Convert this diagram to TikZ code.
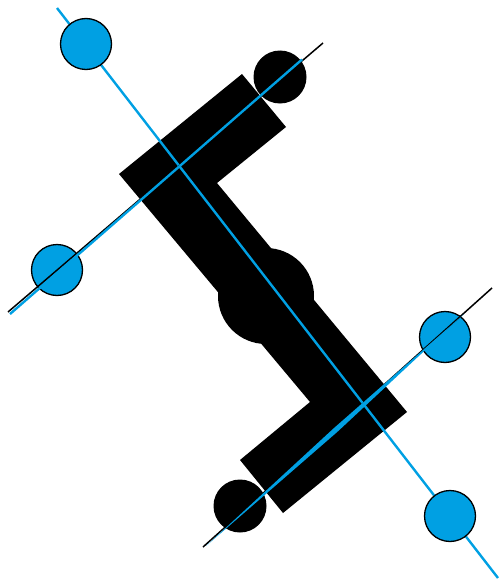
\documentclass[tikz,border=0pt]{standalone}
\definecolor{ablue}{RGB}{0,160,227}
\begin{document}
\begin{tikzpicture}[x=1pt,y=-1pt,
 bluedot/.style={circle,draw=black,line width=1.3pt,fill=ablue,minimum size=51pt,inner sep=0pt},
 blackdot/.style={circle,fill=black,minimum size=53pt,inner sep=0pt},
 bluewire/.style={draw=ablue,line width=2.4pt},
 blackwire/.style={draw=black,line width=1.5pt}]
\useasboundingbox (0,0) rectangle (500,586);
% body
\fill[black] (119,174) -- (242,74) -- (286,127) -- (217,183) -- (407,412) -- (283,513) -- (240,460) -- (310,402) -- cycle;
\fill[black] (266,296) circle[radius=48pt];
\node[blackdot] (j1) at (280,77) {};
\node[blackdot] (j2) at (240,506) {};
% long axis
\coordinate (a1) at (57,8);
\coordinate (a2) at (498,578);
\draw[bluewire] (a1) -- (a2);
% blue dots
\node[bluedot] (b1) at (86,44) {};
\node[bluedot] (b2) at (57,270) {};
\node[bluedot] (b3) at (445,337) {};
\node[bluedot] (b4) at (450,516) {};
% upper cross line
\coordinate (u1) at (8,312);
\coordinate (u2) at (323,43);
\coordinate (u3) at (10,314);
\coordinate (u4) at (302,59.5);
\draw[blackwire] (u1) -- (u2);
\draw[bluewire] (u3) -- (u4);
% lower cross line
\coordinate (l1) at (203,547);
\coordinate (l2) at (492,288);
\coordinate (l3) at (206,546);
\coordinate (l4) at (464,314);
\coordinate (lm1) at (337.2,432);
\coordinate (lm2) at (333.8,428.2);
\draw[blackwire] (l1) -- (l2);
\fill[ablue] (l3) -- (lm1) -- (l4) -- (lm2) -- cycle;
\end{tikzpicture}
\end{document}
